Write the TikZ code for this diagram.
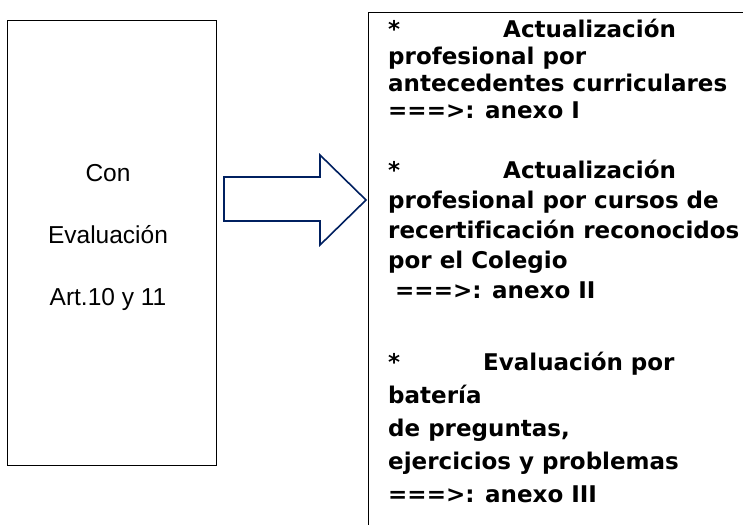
\documentclass[tikz,border=0pt]{standalone}
\usepackage{fontspec}
\setmainfont{Liberation Sans}
\newfontfamily\listfont[Ligatures=NoCommon]{DejaVu Sans}
\usetikzlibrary{positioning}
\definecolor{arrowblue}{HTML}{002060}

\begin{document}
\begin{tikzpicture}[x=1pt,y=-1pt]
  \tikzstyle{frame}=[draw,line width=1pt,inner sep=0pt]
  \tikzstyle{lefttext}=[inner sep=0pt,align=center,font=\fontsize{24.5}{62}\selectfont]
  \tikzstyle{listtext}=[inner sep=0pt,anchor=base west,align=left,font=\listfont\bfseries\fontsize{23}{30}\selectfont]
  \tikzstyle{blockarrow}=[draw=arrowblue,line width=1.6pt,line join=miter]
  \useasboundingbox[fill=white] (0,0) rectangle (743,524);
  \node[frame,minimum width=209pt,minimum height=444pt] (evalbox) at (111.5,243) {};
  \node[lefttext] (evaltext) at (108,237) {Con\\Evaluación\\Art.10 y 11};
  \node[frame,anchor=north west,minimum width=400pt,minimum height=530pt] (annexbox) at (368,12) {};
  \draw[blockarrow] (224,177) -- (320,177) -- (320,155) -- (366,200)
    -- (320,245) -- (320,221) -- (224,221) -- cycle;
  \node[listtext,font=\listfont\bfseries\fontsize{23}{27}\selectfont] (annexi) at (388,118) {\makebox[115pt][l]{*}Actualización\\profesional por\\antecedentes curriculares\\===>: anexo I};
  \node[listtext] (annexii) at (388,298) {\makebox[115pt][l]{*}Actualización\\profesional por cursos de\\recertificación reconocidos\\por el Colegio\\\hspace*{7pt}===>: anexo II};
  \node[listtext,font=\listfont\bfseries\fontsize{23}{33}\selectfont] (annexiii) at (388,502) {\makebox[95pt][l]{*}Evaluación por\\batería\\de preguntas,\\ejercicios y problemas\\===>: anexo III};
\end{tikzpicture}
\end{document}
